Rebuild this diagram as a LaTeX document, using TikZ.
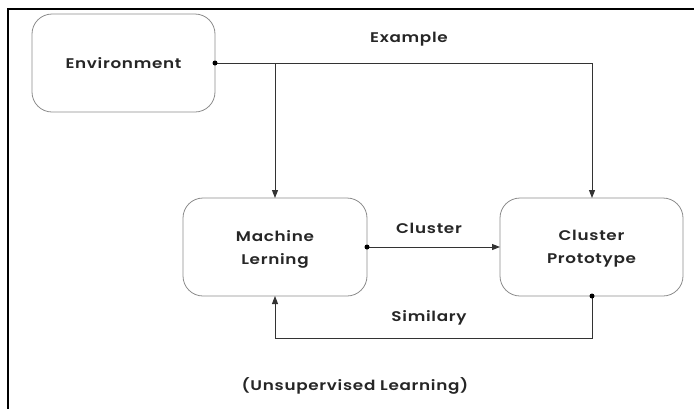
\documentclass[tikz,border=0pt]{standalone}
\usepackage{fontspec}
\IfFontExistsTF{Poppins SemiBold}
  {\setmainfont{Poppins SemiBold}[FakeStretch=1.2,LetterSpace=5]}
  {\setmainfont{Poppins}[FakeStretch=1.2,LetterSpace=5]\AtBeginDocument{\bfseries}}
\usetikzlibrary{arrows.meta}
\begin{document}
\begin{tikzpicture}[x=1pt,y=-1pt,
  block/.style={draw=black!45, line width=0.8pt, rounded corners=20pt, fill=white},
  link/.style={draw=black!80, line width=1pt},
  tip/.style={-{Triangle[length=8pt,width=6pt]}},
  dot/.style={circle, fill=black, inner sep=0pt, minimum size=5pt},
  lbl/.style={font=\fontsize{14}{23}\selectfont, text=black!85}]
\useasboundingbox (0,0) rectangle (694,408);
% outer frame, open to the right and below
\draw[line width=2pt] (8,420) -- (8,9) -- (704,9);

% blocks
\draw[block] (32,14) rectangle (215,112);
\node[lbl] (envt) at (123.5,63) {Environment};
\draw[block] (183,198) rectangle (367,296);
\node[lbl, align=center] (mlt) at (275,249) {Machine\\Lerning};
\draw[block] (500,198) rectangle (683,296);
\node[lbl, align=center] (cpt) at (591.5,249) {Cluster\\Prototype};

\coordinate (envR) at (215,63);
\coordinate (mlT) at (275,198);
\coordinate (mlR) at (367,247);
\coordinate (mlB) at (275,296);
\coordinate (cpT) at (592,198);
\coordinate (cpL) at (500,247);
\coordinate (cpB) at (592,296);
\coordinate (brk) at (275,63);
\coordinate (bot) at (592,338);

% connectors
\draw[link, tip] (envR) -- (cpT |- envR) -- (cpT);
\draw[link, tip] (brk) -- (mlT);
\draw[link, tip] (mlR) -- (cpL);
\draw[link, tip] (cpB) -- (bot) -- (mlB |- bot) -- (mlB);
\node[dot] at (envR) {};
\node[dot] at (mlR) {};
\node[dot] at (cpB) {};

% labels
\node[lbl] (ex) at (409,39) {Example};
\node[lbl] (cl) at (429,228) {Cluster};
\node[lbl] (si) at (429,318) {Similary};
\node[lbl] (ul) at (355,386) {(Unsupervised Learning)};
\end{tikzpicture}
\end{document}
